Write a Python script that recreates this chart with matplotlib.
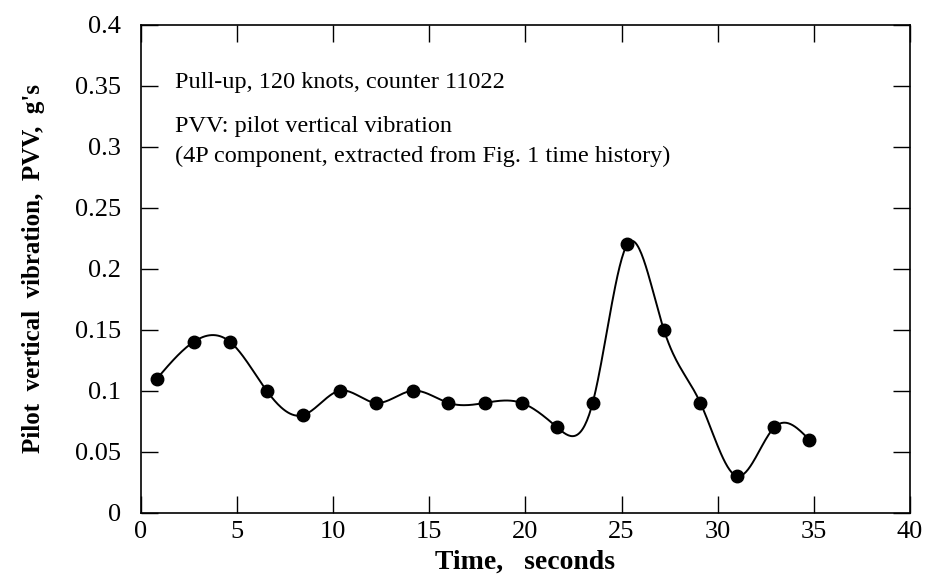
import numpy as np
import matplotlib
matplotlib.use("Agg")
import matplotlib.pyplot as plt

time_s = [0.85, 2.75, 4.65, 6.55, 8.45, 10.35, 12.25, 14.15, 16.0, 17.9,
          19.8, 21.65, 23.5, 25.3, 27.2, 29.1, 31.0, 32.95, 34.75]
pvv_g = [0.11, 0.14, 0.14, 0.10, 0.08, 0.10, 0.09, 0.10, 0.09, 0.09,
         0.09, 0.07, 0.09, 0.22, 0.15, 0.09, 0.03, 0.07, 0.06]
xticks = [0, 5, 10, 15, 20, 25, 30, 35, 40]
yticks = [0, 0.05, 0.1, 0.15, 0.2, 0.25, 0.3, 0.35, 0.4]
ytick_labels = ["0", "0.05", "0.1", "0.15", "0.2", "0.25", "0.3", "0.35", "0.4"]


def natural_spline(x, y, n=600):
    x = np.asarray(x, float)
    y = np.asarray(y, float)
    m = len(x)
    h = np.diff(x)
    A = np.zeros((m, m))
    b = np.zeros(m)
    A[0, 0] = 1
    A[-1, -1] = 1
    for i in range(1, m - 1):
        A[i, i - 1] = h[i - 1]
        A[i, i] = 2 * (h[i - 1] + h[i])
        A[i, i + 1] = h[i]
        b[i] = 6 * ((y[i + 1] - y[i]) / h[i] - (y[i] - y[i - 1]) / h[i - 1])
    M = np.linalg.solve(A, b)
    xs = np.linspace(x[0], x[-1], n)
    idx = np.clip(np.searchsorted(x, xs) - 1, 0, m - 2)
    x0, x1 = x[idx], x[idx + 1]
    hh = x1 - x0
    t0 = x1 - xs
    t1 = xs - x0
    ys = (M[idx] * t0 ** 3 + M[idx + 1] * t1 ** 3) / (6 * hh) \
        + (y[idx] / hh - M[idx] * hh / 6) * t0 \
        + (y[idx + 1] / hh - M[idx + 1] * hh / 6) * t1
    return xs, ys


plt.rcParams['font.family'] = ['Liberation Serif', 'DejaVu Serif']
fig = plt.figure(figsize=(9.27, 5.81), dpi=100)
ax = fig.add_axes([140.7 / 927, 1 - 512.7 / 581, (910 - 140.7) / 927, (512.7 - 24.7) / 581])

xs, ys = natural_spline(time_s, pvv_g)
ax.plot(xs, ys, color='black', lw=1.4)
ax.plot(time_s, pvv_g, 'o', color='black', ms=9)

ax.set_xlim(0, 40)
ax.set_ylim(0, 0.4)
ax.set_xticks(xticks)
ax.set_xticklabels([str(v) for v in xticks])
ax.set_yticks(yticks)
ax.set_yticklabels(ytick_labels)
ax.tick_params(direction='in', length=12, width=1, top=True, right=True,
               labelsize=19, colors='black')
ax.tick_params(axis='y', pad=14)
ax.tick_params(axis='x', pad=6)
for s in ax.spines.values():
    s.set_linewidth(1.2)

ax.set_xlabel("Time,   seconds", fontsize=20, fontweight='bold', labelpad=5)
ax.set_ylabel("Pilot  vertical  vibration,  PVV,  g's", fontsize=18,
              fontweight='bold', labelpad=22)

ax.text(1.8, 0.3481, "Pull-up, 120 knots, counter 11022", fontsize=17.5, va='baseline')
ax.text(1.8, 0.3123, "PVV: pilot vertical vibration", fontsize=17.5, va='baseline')
ax.text(1.8, 0.2877, "(4P component, extracted from Fig. 1 time history)", fontsize=17.5, va='baseline')

fig.savefig("out.png", dpi=100)
